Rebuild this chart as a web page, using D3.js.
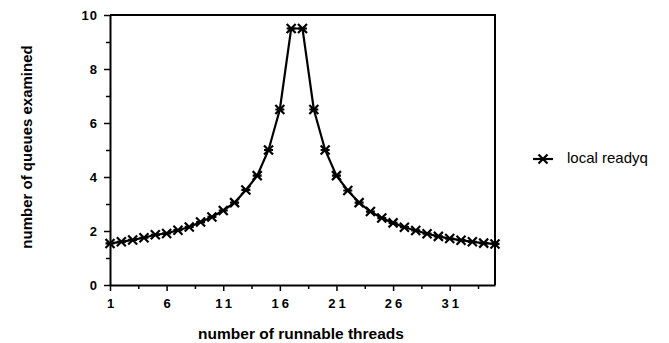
<!DOCTYPE html>
<html>
<head>
<meta charset="utf-8">
<script src="https://cdn.jsdelivr.net/npm/d3@7"></script>
<style>
  body { margin: 0; background: #fff; }
  text { font-family: "Liberation Sans", Arial, sans-serif; fill: #000; }
</style>
</head>
<body>
<div id="chart"></div>
<script>
// number of runnable threads
var threads = [1,2,3,4,5,6,7,8,9,10,11,12,13,14,15,16,17,18,19,20,21,22,23,24,25,26,27,28,29,30,31,32,33,34,35];
// number of queues examined (local readyq)
var queues = [1.54,1.6,1.67,1.75,1.86,1.91,2.03,2.15,2.33,2.52,2.76,3.05,3.52,4.05,5.0,6.5,9.5,
              9.5,6.5,5.0,4.05,3.5,3.05,2.72,2.48,2.3,2.14,2.02,1.9,1.8,1.72,1.66,1.6,1.55,1.52];
var xTicks = [1,6,11,16,21,26,31];
var yTicks = [0,2,4,6,8,10];
var seriesName = "local readyq";

var W = 669, H = 343;
var margin = {top: 15, right: 174, bottom: 58, left: 110};

var svg = d3.select("#chart").append("svg")
    .attr("width", W)
    .attr("height", H);

var x = d3.scaleLinear().domain([1, 35]).range([margin.left, W - margin.right]);
var y = d3.scaleLinear().domain([0, 10]).range([H - margin.bottom, margin.top]);

// minor ticks (every half step)
var xMinor = d3.range(3.5, 35, 5);
var yMinor = d3.range(1, 10, 2);

svg.append("g")
    .attr("transform", "translate(0," + y(0) + ")")
    .call(d3.axisBottom(x).tickValues(xMinor).tickSize(4).tickFormat(""))
    .call(function(g){ g.select(".domain").remove(); g.selectAll("line").attr("stroke-width", 1.5); });

svg.append("g")
    .attr("transform", "translate(" + x(1) + ",0)")
    .call(d3.axisLeft(y).tickValues(yMinor).tickSize(4).tickFormat(""))
    .call(function(g){ g.select(".domain").remove(); g.selectAll("line").attr("stroke-width", 1.5); });

// major axes
var xAxis = svg.append("g")
    .attr("transform", "translate(0," + y(0) + ")")
    .call(d3.axisBottom(x).tickValues(xTicks).tickSize(6).tickSizeOuter(0).tickPadding(8));
xAxis.selectAll("text").style("font-size", "13px").style("font-weight", "bold").style("letter-spacing", "3px")
    .attr("dx", "1.5px");

var yAxis = svg.append("g")
    .attr("transform", "translate(" + x(1) + ",0)")
    .call(d3.axisLeft(y).tickValues(yTicks).tickSize(6).tickSizeOuter(0).tickPadding(6));
yAxis.selectAll("text").style("font-size", "13px").style("font-weight", "bold").style("letter-spacing", "1px");

[xAxis, yAxis].forEach(function(g){
  g.select(".domain").attr("stroke-width", 2);
  g.selectAll(".tick line").attr("stroke-width", 1.5);
});

// frame top and right
svg.append("path")
    .attr("d", "M" + x(1) + "," + y(10) + "H" + x(35) + "V" + y(0))
    .attr("fill", "none")
    .attr("stroke", "#000")
    .attr("stroke-width", 2);

// line
var line = d3.line()
    .x(function(d, i){ return x(threads[i]); })
    .y(function(d){ return y(d); });

svg.append("path")
    .datum(queues)
    .attr("d", line)
    .attr("fill", "none")
    .attr("stroke", "#000")
    .attr("stroke-width", 2.2);

// x markers with a bar through
function marker(g, cx, cy){
  var s = 4.5;
  g.append("path")
    .attr("d", "M" + (cx - s) + "," + (cy - s) + "L" + (cx + s) + "," + (cy + s) +
               "M" + (cx - s) + "," + (cy + s) + "L" + (cx + s) + "," + (cy - s) +
               "M" + (cx - s) + "," + cy + "L" + (cx + s) + "," + cy)
    .attr("stroke", "#000")
    .attr("stroke-width", 2.2)
    .attr("fill", "none");
}
var mk = svg.append("g");
queues.forEach(function(d, i){ marker(mk, x(threads[i]), y(d)); });

// axis titles
svg.append("text")
    .attr("x", 301)
    .attr("y", 339)
    .attr("text-anchor", "middle")
    .style("font-size", "15.5px")
    .style("font-weight", "bold")
    .text("number of runnable threads");

svg.append("text")
    .attr("transform", "translate(32,147) rotate(-90)")
    .attr("text-anchor", "middle")
    .style("font-size", "15px")
    .style("font-weight", "bold")
    .text("number of queues examined");

// legend
var lg = svg.append("g");
lg.append("line")
    .attr("x1", 533).attr("x2", 553)
    .attr("y1", 159).attr("y2", 159)
    .attr("stroke", "#000").attr("stroke-width", 2.2);
marker(lg, 543, 159);
lg.append("text")
    .attr("x", 567)
    .attr("y", 163)
    .style("font-size", "15px")
    .text(seriesName);
</script>
</body>
</html>
